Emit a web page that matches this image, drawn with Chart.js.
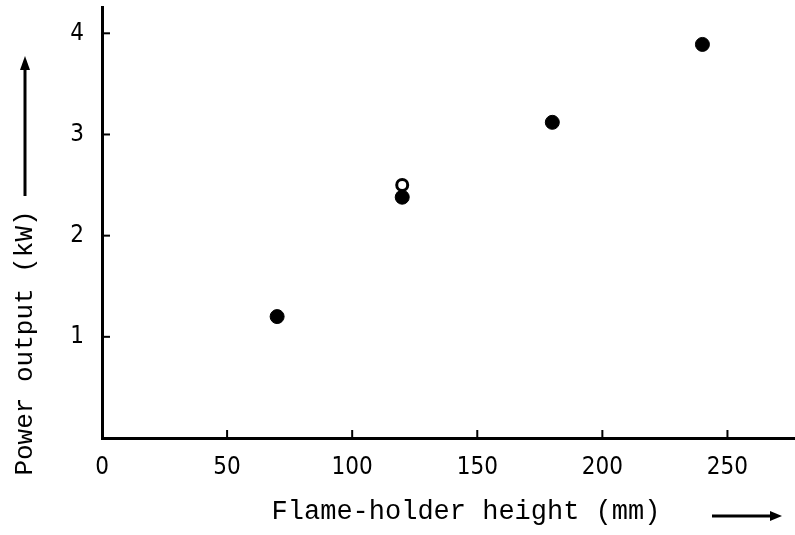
<!DOCTYPE html>
<html>
<head>
<meta charset="utf-8">
<script src="https://cdn.jsdelivr.net/npm/chart.js@4.4.1/dist/chart.umd.min.js"></script>
<style>
  html, body { margin: 0; padding: 0; background: #fff; }
  #wrap { width: 795px; height: 535px; position: relative; }
</style>
</head>
<body>
<div id="wrap"><canvas id="powerChart" width="795" height="535"></canvas></div>
<script>
// flame-holder height (mm) vs power output (kW)
const heightFilled = [70, 120, 180, 240];
const powerFilled = [1.2, 2.38, 3.12, 3.89];
const heightOpen = [120];
const powerOpen = [2.5];

const xTickValues = [0, 50, 100, 150, 200, 250];
const yTickValues = [1, 2, 3, 4];

const xTitle = 'Flame-holder height (mm)';
const yTitle = 'Power output (kW)';

const tickFont = '"Liberation Sans Narrow", "DejaVu Sans Condensed", sans-serif';
const titleFont = '"Liberation Mono", "DejaVu Sans Mono", monospace';

// ticks drawn inward, plus the axis titles with their arrows
const decorations = {
    id: 'decorations',
    afterDraw(chart) {
        const ctx = chart.ctx;
        const xs = chart.scales.x;
        const ys = chart.scales.y;
        const area = chart.chartArea;
        ctx.save();
        ctx.strokeStyle = '#000';
        ctx.lineWidth = 2;
        xTickValues.forEach(v => {
            if (v === 0) return;
            const px = xs.getPixelForValue(v);
            ctx.beginPath();
            ctx.moveTo(px, area.bottom);
            ctx.lineTo(px, area.bottom - 8);
            ctx.stroke();
        });
        yTickValues.forEach(v => {
            const py = ys.getPixelForValue(v);
            ctx.beginPath();
            ctx.moveTo(area.left, py);
            ctx.lineTo(area.left + 8, py);
            ctx.stroke();
        });

        ctx.fillStyle = '#000';
        ctx.font = '27px ' + titleFont;
        ctx.textBaseline = 'middle';
        ctx.textAlign = 'center';
        ctx.fillText(xTitle, 466, 512);

        ctx.save();
        ctx.translate(25, 343);
        ctx.rotate(-Math.PI / 2);
        ctx.font = '26px ' + titleFont;
        ctx.fillText(yTitle, 0, 0);
        ctx.restore();

        // arrows
        ctx.lineWidth = 3;
        ctx.beginPath();
        ctx.moveTo(712, 516);
        ctx.lineTo(772, 516);
        ctx.stroke();
        ctx.beginPath();
        ctx.moveTo(782, 516);
        ctx.lineTo(770, 511);
        ctx.lineTo(770, 521);
        ctx.closePath();
        ctx.fill();

        ctx.beginPath();
        ctx.moveTo(25, 196);
        ctx.lineTo(25, 68);
        ctx.stroke();
        ctx.beginPath();
        ctx.moveTo(25, 56);
        ctx.lineTo(20, 70);
        ctx.lineTo(30, 70);
        ctx.closePath();
        ctx.fill();
        ctx.restore();
    }
};

const ctx = document.getElementById('powerChart').getContext('2d');
new Chart(ctx, {
    type: 'scatter',
    data: {
        datasets: [
            {
                label: 'filled',
                data: heightFilled.map((h, i) => ({ x: h, y: powerFilled[i] })),
                backgroundColor: '#000',
                borderColor: '#000',
                pointRadius: 7,
                pointHoverRadius: 7
            },
            {
                label: 'open',
                data: heightOpen.map((h, i) => ({ x: h, y: powerOpen[i] })),
                backgroundColor: '#fff',
                borderColor: '#000',
                borderWidth: 3,
                pointRadius: 5.5,
                pointHoverRadius: 5.5
            }
        ]
    },
    options: {
        responsive: false,
        animation: false,
        layout: { autoPadding: false, padding: { top: 7, right: 0, left: 0, bottom: 0 } },
        plugins: {
            legend: { display: false },
            tooltip: { enabled: false }
        },
        scales: {
            x: {
                type: 'linear',
                min: 0,
                max: 277,
                afterFit: scale => {
                    scale.height = 97;
                    scale.paddingLeft = 0;
                    scale.paddingRight = 0;
                },
                afterBuildTicks: scale => { scale.ticks = xTickValues.map(v => ({ value: v })); },
                grid: { display: false, drawTicks: false },
                border: { display: true, width: 3, color: '#000' },
                ticks: {
                    padding: 15,
                    color: '#000',
                    font: { family: tickFont, size: 24 }
                }
            },
            y: {
                type: 'linear',
                min: 0,
                max: 4.26,
                afterFit: scale => {
                    scale.width = 102;
                    scale.paddingTop = 0;
                    scale.paddingBottom = 0;
                },
                afterBuildTicks: scale => { scale.ticks = yTickValues.map(v => ({ value: v })); },
                grid: { display: false, drawTicks: false },
                border: { display: true, width: 3, color: '#000' },
                ticks: {
                    padding: 18,
                    color: '#000',
                    font: { family: tickFont, size: 24 }
                }
            }
        }
    },
    plugins: [decorations]
});
</script>
</body>
</html>
